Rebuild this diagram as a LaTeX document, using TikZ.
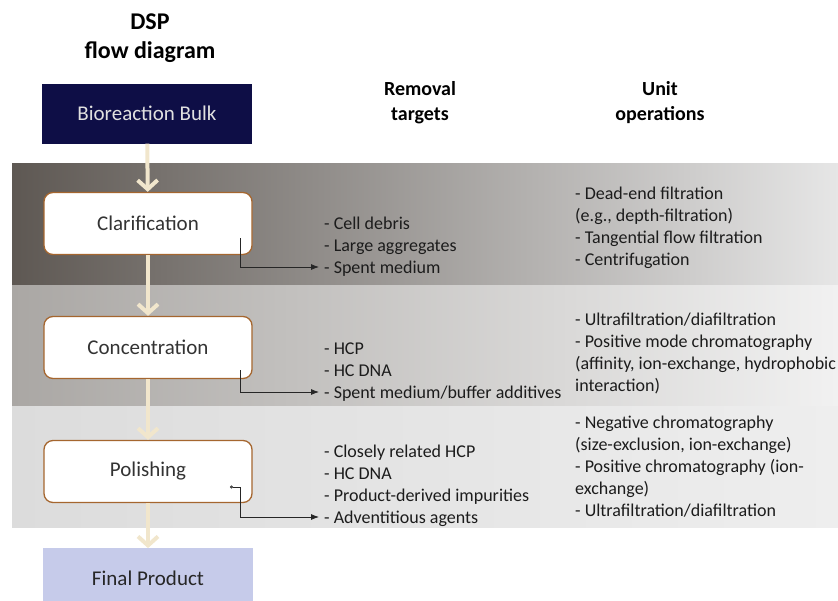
\documentclass[tikz,border=0pt]{standalone}
\usepackage{fontspec}
\setmainfont{Carlito}
\usepackage{tikz}
\usetikzlibrary{arrows.meta,positioning}

\definecolor{navybox}{HTML}{0E0E46}
\definecolor{finalbox}{HTML}{C6CBEA}
\definecolor{stageedge}{HTML}{A5662F}
\definecolor{flowarrow}{HTML}{F1E6CC}
\definecolor{bandAdark}{HTML}{5E5853}
\definecolor{bandAlight}{HTML}{E6E6E6}
\definecolor{bandBdark}{HTML}{AAA7A4}
\definecolor{bandBlight}{HTML}{F1F1F1}
\definecolor{bandCdark}{HTML}{DCDCDC}
\definecolor{bandClight}{HTML}{EEEEEE}
\definecolor{listtext}{HTML}{1C1C1C}

\begin{document}
\begin{tikzpicture}[x=1pt, y=1pt, node distance=124pt,
  stage/.style={rectangle, rounded corners=9pt, draw=stageedge, line width=1.3pt, fill=white, minimum width=208pt, minimum height=62pt, font=\fontsize{21}{25}\selectfont, text=black!80},
  endbox/.style={rectangle, minimum width=210pt, minimum height=60pt, font=\fontsize{21}{25}\selectfont},
  heading/.style={align=center, anchor=base, font=\bfseries\fontsize{20}{25}\selectfont},
  items/.style={align=left, anchor=base west, inner sep=0pt, text=listtext, font=\fontsize{18}{22}\selectfont},
  flow/.style={draw=flowarrow, line width=4pt, -{Straight Barb[length=9pt,width=20pt]}},
  outlink/.style={draw=black!85, line width=0.8pt, -{Latex[length=8pt,width=6pt]}}]
\useasboundingbox (0,0) rectangle (838,-600);
\clip (0,0) rectangle (838,-600);

% bands behind the stages
\shade[left color=bandAdark, right color=bandAlight] (12,-163) rectangle (838,-285);
\shade[left color=bandBdark, right color=bandBlight] (12,-285) rectangle (838,-406);
\shade[left color=bandCdark, right color=bandClight] (12,-406) rectangle (838,-527);

% base of a multi-line node = last line
\node[heading, font=\bfseries\fontsize{24}{29}\selectfont] (title) at (150,-58) {DSP\\flow diagram};
\node[heading] (removal) at (420,-120) {Removal\\targets};
\node[heading] (unitops) at (660,-120) {Unit\\operations};

\node[endbox, fill=navybox, text=white!88!black] (bulk) at (147,-113.5) {Bioreaction Bulk};
\node[stage] (clar) at (148,-223.5) {Clarification};
\node[stage, below of=clar] (conc) {Concentration};
\node[stage, below of=conc] (pol) {Polishing};
\node[endbox, fill=finalbox, text=black!85, below=45pt of pol] (final) {Final Product};

\node[items] (rmA) at (324,-273) {- Cell debris\\- Large aggregates\\- Spent medium};
\node[items] (rmB) at (324,-398) {- HCP\\- HC DNA\\- Spent medium/buffer additives};
\node[items] (rmC) at (324,-523) {- Closely related HCP\\- HC DNA\\- Product-derived impurities\\- Adventitious agents};

\node[items] (opA) at (575,-265) {- Dead-end filtration\\(e.g., depth-filtration)\\- Tangential flow filtration\\- Centrifugation};
\node[items] (opB) at (575,-391) {- Ultrafiltration/diafiltration\\- Positive mode chromatography\\(affinity, ion-exchange, hydrophobic\\interaction)};
\node[items] (opC) at (575,-516) {- Negative chromatography\\(size-exclusion, ion-exchange)\\- Positive chromatography (ion-\\exchange)\\- Ultrafiltration/diafiltration};

\coordinate (clarOut) at (240,-238);
\coordinate (concOut) at (240,-370);
\coordinate (polOut) at (230,-487);
\coordinate (rmAin) at (319,-267);
\coordinate (rmBin) at (319,-392);
\coordinate (rmCin) at (319,-517);

\path[flow] (bulk) edge (clar)
            (clar) edge (conc)
            (conc) edge (pol)
            (pol) edge (final);

\draw[outlink] (clarOut) |- (rmAin);
\draw[outlink] (concOut) |- (rmBin);
\draw[outlink, {Circle[open,length=3pt,width=3pt]}-{Latex[length=8pt,width=6pt]}] (polOut) -- ++(10,0) |- (rmCin);
\end{tikzpicture}
\end{document}
